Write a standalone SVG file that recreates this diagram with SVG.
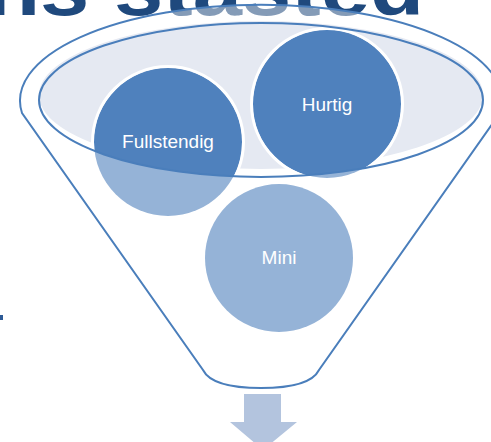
<svg xmlns="http://www.w3.org/2000/svg" width="491" height="442" viewBox="0 0 491 442">
<defs>
<style>
.title{font-family:"Liberation Sans",Arial,sans-serif;font-weight:bold;font-size:78px;fill:#1f497d}
.lbl{font-family:"Liberation Sans",Arial,sans-serif;font-size:19px;fill:#fff;text-anchor:middle}
.funnel{fill:#fff;fill-opacity:0.45;stroke:#4a7ebb;stroke-width:2}
.rim{fill:#e5e9f2}
.rimline{fill:none;stroke:#4a7ebb;stroke-width:2}
.cl{fill:#95b3d7}
.cd{fill:#4f81bd}
.ring{fill:none;stroke:#fff;stroke-width:3}
.arrow{fill:#b3c4de}
</style>
<clipPath id="rimclip"><ellipse cx="261" cy="100" rx="222" ry="77"/></clipPath>
</defs>
<rect width="491" height="442" fill="#fff"/>
<g id="title">
<text class="title" x="-14" y="15" textLength="438" lengthAdjust="spacingAndGlyphs">ns stasted</text>
</g>
<rect x="0" y="315" width="3" height="5" fill="#2d5a96"/>
<g id="funnel">
<path class="funnel" d="M22,113 A241,96 0 1 1 500,113 L319,370 Q310,388 261,388 Q212,388 203,370 Z"/>
<ellipse class="rim" cx="261" cy="95" rx="222" ry="74"/>
</g>
<g id="node-fullstendig">
<circle class="cl" cx="168" cy="142" r="74"/>
<circle class="cd" cx="168" cy="142" r="74" clip-path="url(#rimclip)"/>
<circle class="ring" cx="168" cy="142" r="75.5" clip-path="url(#rimclip)"/>
<text class="lbl" x="168" y="148">Fullstendig</text>
</g>
<g id="node-hurtig">
<circle class="cl" cx="327" cy="104" r="74"/>
<circle class="cd" cx="327" cy="104" r="74" clip-path="url(#rimclip)"/>
<circle class="ring" cx="327" cy="104" r="75.5" clip-path="url(#rimclip)"/>
<text class="lbl" x="327" y="111">Hurtig</text>
</g>
<g id="node-mini">
<circle class="cl" cx="279" cy="258" r="74"/>
<text class="lbl" x="279" y="264">Mini</text>
</g>
<g id="rim-outline">
<ellipse class="rimline" cx="261" cy="100" rx="222" ry="77"/>
</g>
<g id="connectors">
<polygon class="arrow" points="244,394 281,394 281,422 297,422 263,450 230,422 244,422"/>
</g>
</svg>
